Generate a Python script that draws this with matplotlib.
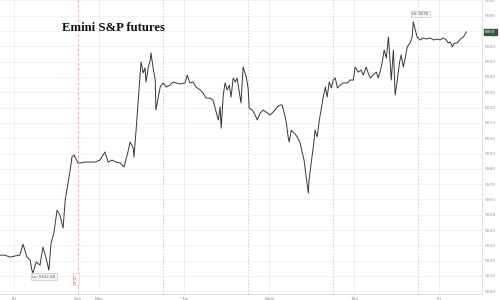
import matplotlib
matplotlib.use("Agg")
import matplotlib.pyplot as plt

# time in hours from chart start, price
hours = [0.0, 1.4, 2.8, 4.2, 5.6, 6.5, 7.6, 8.5, 9.0, 9.3, 10.2, 11.3, 12.1, 13.0, 13.8, 14.4,
         15.2, 16.1, 16.9, 17.8, 18.4, 19.2, 19.8, 20.3, 20.9, 22.0, 22.6, 24.0, 25.4, 26.8,
         28.2, 29.6, 30.5, 31.6, 32.8, 33.9, 35.0, 36.1, 36.7, 37.6, 37.8, 38.4, 39.0, 39.8,
         40.4, 40.9, 41.2, 41.8, 42.4, 42.6, 43.2, 43.8, 44.0, 44.6, 45.2, 46.0, 46.9, 48.0,
         48.8, 49.7, 50.8, 52.2, 52.8, 53.6, 54.5, 55.3, 56.5, 57.3, 58.2, 59.3, 60.1, 61.0,
         61.6, 62.1, 62.4, 63.0, 63.5, 64.1, 64.7, 65.2, 65.8, 66.4, 66.9, 67.5, 68.0, 68.6,
         69.5, 70.0, 70.3, 71.2, 72.0, 72.6, 73.4, 74.3, 75.1, 76.2, 77.1, 78.2, 79.1, 79.6,
         80.2, 80.8, 81.3, 81.6, 82.2, 83.0, 83.9, 84.7, 85.3, 85.8, 86.4, 87.0, 87.2, 87.8,
         88.4, 88.9, 89.5, 90.1, 90.6, 91.2, 91.8, 92.3, 92.9, 93.5, 94.0, 94.6, 95.2, 96.0,
         96.8, 98.0, 98.8, 99.7, 100.2, 101.1, 101.9, 102.5, 103.3, 103.9, 104.5, 105.3,
         106.2, 106.7, 107.6, 108.4, 109.0, 109.6, 109.8, 110.4, 111.0, 111.5, 112.1, 112.7,
         113.2, 113.8, 114.4, 114.9, 115.8, 116.3, 116.6, 117.2, 117.7, 118.6, 119.4, 120.3,
         121.4, 122.3, 123.4, 124.2, 125.1, 125.9, 126.5, 127.1, 127.6, 128.2, 129.0, 129.9,
         130.7, 131.6]
prices = [5923.6, 5923.6, 5922.3, 5923.0, 5923.6, 5930.8, 5922.3, 5920.4, 5913.8, 5911.9,
          5919.1, 5917.1, 5928.9, 5921.7, 5913.8, 5931.5, 5938.0, 5953.0, 5949.8, 5941.3,
          5959.6, 5970.7, 5979.2, 5987.7, 5989.0, 5983.8, 5983.8, 5984.4, 5984.4, 5984.4,
          5985.7, 5991.0, 5984.4, 5985.7, 5984.4, 5983.8, 5981.2, 5991.0, 5997.5, 5993.6,
          5987.7, 6005.3, 6024.9, 6049.8, 6042.6, 6045.9, 6036.7, 6045.9, 6051.1, 6055.7,
          6045.9, 6038.0, 6018.4, 6026.2, 6033.4, 6036.1, 6033.4, 6034.7, 6036.7, 6036.1,
          6035.4, 6036.1, 6041.3, 6036.1, 6036.7, 6033.4, 6031.5, 6029.5, 6026.2, 6026.2,
          6024.9, 6017.1, 6011.9, 6020.4, 6006.6, 6028.2, 6036.1, 6031.5, 6034.7, 6026.9,
          6039.3, 6036.7, 6039.3, 6030.2, 6023.0, 6046.5, 6040.0, 6032.8, 6019.7, 6018.4,
          6015.1, 6011.9, 6016.4, 6018.4, 6017.1, 6015.1, 6017.1, 6020.4, 6021.7, 6021.7,
          6016.4, 6009.9, 6000.8, 5997.5, 6005.3, 6003.4, 6000.8, 5996.8, 5990.3, 5985.7,
          5974.6, 5964.2, 5972.7, 5983.8, 5994.2, 6005.3, 6000.8, 6011.9, 6018.4, 6026.9,
          6033.4, 6026.9, 6036.7, 6032.8, 6038.0, 6039.3, 6032.8, 6034.7, 6036.1, 6036.1,
          6038.0, 6038.0, 6046.5, 6043.2, 6044.5, 6041.3, 6046.5, 6042.6, 6039.3, 6041.3,
          6043.2, 6039.3, 6046.5, 6057.6, 6052.4, 6066.1, 6059.6, 6038.0, 6057.6, 6028.2,
          6038.0, 6049.1, 6054.4, 6046.5, 6053.0, 6059.6, 6062.8, 6066.1, 6075.9, 6070.7,
          6066.1, 6064.2, 6065.5, 6064.8, 6065.5, 6064.2, 6064.8, 6064.2, 6065.5, 6064.2,
          6062.2, 6062.8, 6059.6, 6062.2, 6062.2, 6064.8, 6066.1, 6069.4]

y_ticks = list(range(5900, 6100, 10))
day_labels = ["Fri", "Sun", "Mon", "Tue", "Wed", "Thu", "Fri"]
day_label_pos = [4, 22, 28, 52, 76, 100, 124]
midnight_lines = [4, 28, 52, 76, 100, 124]
session_lines = [46, 70, 94, 118]
sunday_open = 22
title = "Emini S&P futures"
hi_text = "Hi: 6076"
lo_text = "Lo: 5912.00"
last_text = "6069"
open_text = "18:00"

fig = plt.figure(figsize=(5, 3), dpi=100)
ax = fig.add_axes([0.0, 0.02, 0.964, 0.98])
ax.set_xlim(0, 136)
ax.set_ylim(5898.2, 6090.3)

for y in y_ticks:
    ax.axhline(y, color="#f1f1f1", lw=0.6, zorder=0)
for x in midnight_lines:
    ax.axvline(x, color="#ececec", lw=0.6, zorder=0)
for x in session_lines:
    ax.axvline(x, color="#c8c8c8", lw=0.6, ls=(0, (2, 2)), zorder=1)
ax.axvline(sunday_open, color="#f0a8a8", lw=0.7, ls=(0, (3, 2)), zorder=1)

ax.plot(hours, prices, color="#3d3530", lw=0.7, zorder=3)

ax.yaxis.tick_right()
ax.set_yticks(y_ticks)
ax.set_yticklabels([str(v) for v in y_ticks], fontsize=3.2, color="#999999")
ax.set_xticks(day_label_pos)
ax.set_xticklabels(day_labels, fontsize=3.2, color="#888888")
ax.tick_params(axis="both", length=0, pad=2)
for s in ["top", "left"]:
    ax.spines[s].set_visible(False)
ax.spines["right"].set_color("#d8d8d8")
ax.spines["bottom"].set_color("#d8d8d8")
ax.spines["right"].set_linewidth(0.6)
ax.spines["bottom"].set_linewidth(0.6)

ax.text(62 / 482, 0.905, title, transform=ax.transAxes, fontsize=9.2,
        family="Liberation Serif", fontweight="bold", color="#111111", va="center", ha="left")

hi_i = prices.index(max(prices))
lo_i = prices.index(min(prices))
ax.annotate(hi_text, (hours[hi_i], prices[hi_i]), xytext=(hours[hi_i] + 2.0, prices[hi_i] + 5.3),
            fontsize=2.8, color="#555555", ha="center", va="center",
            bbox=dict(boxstyle="square,pad=0.35", fc="#f4f4f4", ec="#bbbbbb", lw=0.4))
ax.annotate(lo_text, (hours[lo_i], prices[lo_i]), xytext=(hours[lo_i] + 3.0, prices[lo_i] - 2.5),
            fontsize=2.8, color="#555555", ha="center", va="center",
            bbox=dict(boxstyle="square,pad=0.35", fc="#f4f4f4", ec="#bbbbbb", lw=0.4))
ax.text(1.006, prices[-1], last_text, transform=ax.get_yaxis_transform(), fontsize=3,
        color="white", ha="left", va="center",
        bbox=dict(boxstyle="square,pad=0.3", fc="#2f5d3c", ec="#2f5d3c"))
ax.text(sunday_open - 0.6, 5908, open_text, fontsize=2.6, color="#e07070", rotation=90,
        ha="center", va="center",
        bbox=dict(boxstyle="square,pad=0.2", fc="white", ec="#f0b0b0", lw=0.4))

fig.savefig("out.png", dpi=100)
